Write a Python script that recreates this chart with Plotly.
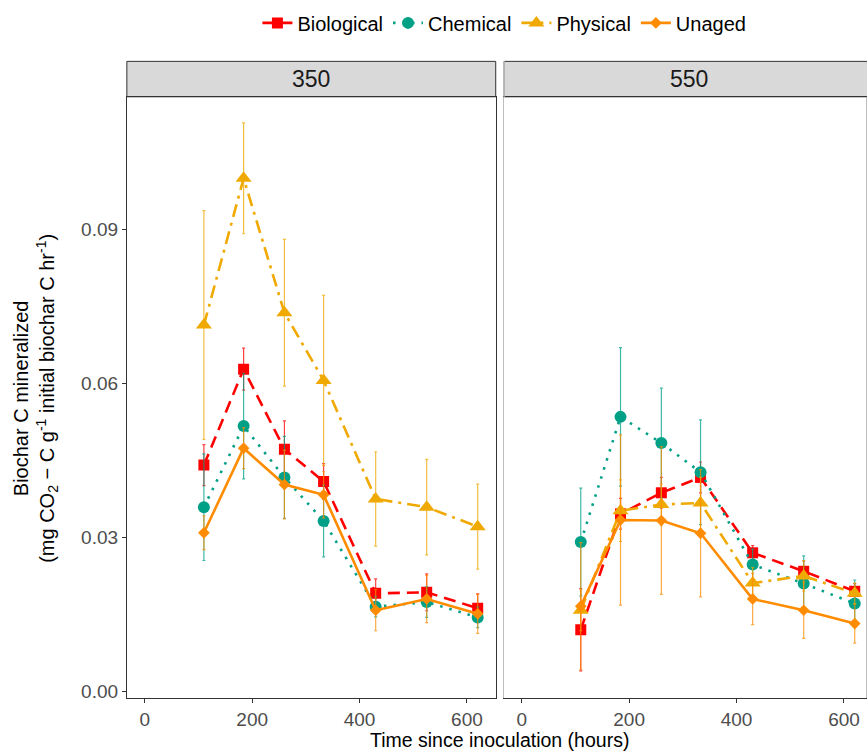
import plotly.graph_objects as go

W, H = 867, 753

times = [110, 184, 260, 333, 430, 525, 620]
series_names = ["Biological", "Chemical", "Physical", "Unaged"]
tick_x = [0, 200, 400, 600]
tick_y = [0.00, 0.03, 0.06, 0.09]
panels = ["350", "550"]

# Panel 350
bio_350 = [0.0441, 0.0628, 0.0472, 0.0409, 0.0191, 0.0193, 0.0162]
bio_350_se = [0.0040, 0.0041, 0.0055, 0.0035, 0.0028, 0.0036, 0.0028]
chem_350 = [0.0359, 0.0517, 0.0417, 0.0332, 0.0165, 0.0174, 0.0144]
chem_350_se = [0.0104, 0.0103, 0.0080, 0.0070, 0.0020, 0.0030, 0.0020]
phys_350 = [0.0714, 0.1000, 0.0738, 0.0606, 0.0375, 0.0359, 0.0321]
phys_350_se = [0.0223, 0.0108, 0.0143, 0.0166, 0.0092, 0.0093, 0.0083]
una_350 = [0.0309, 0.0474, 0.0403, 0.0383, 0.0158, 0.0180, 0.0151]
una_350_se = [0.0033, 0.0040, 0.0067, 0.0045, 0.0040, 0.0046, 0.0038]

# Panel 550
bio_550 = [0.0120, 0.0346, 0.0387, 0.0417, 0.0270, 0.0234, 0.0195]
bio_550_se = [0.0080, 0.0030, 0.0030, 0.0030, 0.0014, 0.0020, 0.0015]
chem_550 = [0.0291, 0.0535, 0.0484, 0.0427, 0.0247, 0.0210, 0.0171]
chem_550_se = [0.0105, 0.0135, 0.0107, 0.0102, 0.0030, 0.0054, 0.0046]
phys_550 = [0.0158, 0.0352, 0.0364, 0.0367, 0.0211, 0.0225, 0.0191]
phys_550_se = [0.0040, 0.0060, 0.0040, 0.0050, 0.0030, 0.0030, 0.0020]
una_550 = [0.0166, 0.0334, 0.0333, 0.0308, 0.0180, 0.0158, 0.0132]
una_550_se = [0.0124, 0.0166, 0.0144, 0.0124, 0.0050, 0.0055, 0.0038]

data = {
    "350": [(bio_350, bio_350_se), (chem_350, chem_350_se), (phys_350, phys_350_se), (una_350, una_350_se)],
    "550": [(bio_550, bio_550_se), (chem_550, chem_550_se), (phys_550, phys_550_se), (una_550, una_550_se)],
}

colors = ["#FF0000", "#00A087", "#F0A900", "#FF8C00"]
ebar_colors = ["rgba(255,0,0,0.75)", "rgba(0,160,135,0.75)", "rgba(240,169,0,0.75)", "rgba(255,140,0,0.75)"]
dashes = ["12px,7px", "2.5px,7px", "13px,6px,3px,6px", "solid"]
symbols = ["square", "circle", "triangle-up", "diamond"]
msizes = [11, 12, 14, 9]

def px(x):
    return x / W

def py(y):
    return 1 - y / H

fig = go.Figure()

for pi, panel in enumerate(panels):
    xa = "x" if pi == 0 else "x2"
    ya = "y" if pi == 0 else "y2"
    for si, name in enumerate(series_names):
        vals, se = data[panel][si]
        fig.add_trace(go.Scatter(
            x=times, y=vals, mode="lines+markers", name=name,
            legendgroup=name, showlegend=(pi == 0),
            xaxis=xa, yaxis=ya,
            line=dict(color=colors[si], width=2.6, dash=dashes[si]),
            marker=dict(symbol=symbols[si], size=msizes[si], color=colors[si], line=dict(width=0)),
            error_y=dict(type="data", array=se, visible=True, color=ebar_colors[si], thickness=1.2, width=1.5),
        ))

axis_common = dict(
    ticks="outside", ticklen=4, tickcolor="#333333", tickwidth=1,
    tickfont=dict(size=19, color="#4D4D4D", family="Liberation Sans, Arial"),
    showgrid=False, zeroline=False, showline=True, mirror=True,
    linewidth=1,
)

fig.update_layout(
    width=W, height=H,
    margin=dict(l=0, r=0, t=0, b=0),
    paper_bgcolor="white", plot_bgcolor="white",
    font=dict(family="Liberation Sans, Arial", color="#000000"),
    xaxis=dict(domain=[px(127), px(496.3)], range=[-33.5, 653.6], tickvals=tick_x,
               linecolor="#333333", anchor="y", **axis_common),
    xaxis2=dict(domain=[px(504.7), 1.0], range=[-32.7, 641], tickvals=tick_x,
                linecolor="#333333", anchor="y2", **axis_common),
    yaxis=dict(domain=[py(701.7), py(97.3)], range=[-0.0013, 0.1159], tickvals=tick_y,
               tickformat=".2f", linecolor="#333333", anchor="x", **axis_common),
    yaxis2=dict(domain=[py(701.7), py(97.3)], range=[-0.0013, 0.1159], tickvals=tick_y,
                showticklabels=False, ticks="", linecolor="#BEBEBE", anchor="x2", matches="y",
                showgrid=False, zeroline=False, showline=True, mirror=True, linewidth=1),
    legend=dict(orientation="h", x=px(505), xanchor="center", y=py(23), yanchor="middle",
                font=dict(size=20, color="#000000"), itemwidth=30, traceorder="normal",
                bgcolor="rgba(0,0,0,0)"),
    showlegend=True,
)

shapes = []
# strips
shapes.append(dict(type="rect", xref="paper", yref="paper", x0=px(127), x1=px(496.3),
                   y0=py(97.3), y1=py(61.7), fillcolor="#D9D9D9", line=dict(color="#333333", width=1), layer="below"))
shapes.append(dict(type="rect", xref="paper", yref="paper", x0=px(504.7), x1=px(880),
                   y0=py(97.3), y1=py(61.7), fillcolor="#D9D9D9", line=dict(color="#333333", width=1), layer="below"))
shapes.append(dict(type="line", xref="paper", yref="paper", x0=px(504.7), x1=px(504.7),
                   y0=py(97.3), y1=py(61.7), line=dict(color="#BEBEBE", width=1.5)))
fig.update_layout(shapes=shapes)

annotations = [
    dict(text="350", x=px((127 + 496.3) / 2), y=py(79.5), xref="paper", yref="paper",
         showarrow=False, font=dict(size=23, color="#1A1A1A"), xanchor="center", yanchor="middle"),
    dict(text="550", x=px((504.7 + 874) / 2), y=py(79.5), xref="paper", yref="paper",
         showarrow=False, font=dict(size=23, color="#1A1A1A"), xanchor="center", yanchor="middle"),
    dict(text="Time since inoculation (hours)", x=px(500.5), y=py(744), xref="paper", yref="paper",
         showarrow=False, font=dict(size=19.5, color="#000000"), xanchor="center", yanchor="middle"),
    dict(text="Biochar C mineralized<br>(mg CO<sub>2</sub> \u2212 C g<sup>-1</sup> initial biochar C hr<sup>-1</sup>)",
         x=px(36), y=py(400), xref="paper", yref="paper", textangle=-90,
         showarrow=False, font=dict(size=20, color="#000000"), xanchor="center", yanchor="middle"),
]
fig.update_layout(annotations=annotations)

fig.write_html("out.html")
